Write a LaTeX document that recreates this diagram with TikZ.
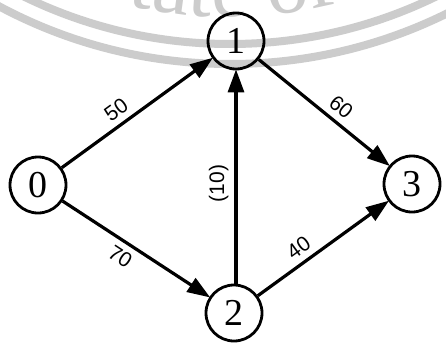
\documentclass[tikz,border=0pt]{standalone}
\usepackage{fontspec}
\setmainfont{Liberation Serif}
\newfontfamily\lblfont{Liberation Sans}
\usetikzlibrary{arrows.meta,decorations.text}
\definecolor{wmgray}{RGB}{204,204,204}
\begin{document}
\begin{tikzpicture}[x=1pt,y=-1pt,
  vert/.style={circle,draw,line width=2.8pt,minimum size=56pt,inner sep=0pt,font=\fontsize{38}{38}\selectfont},
  edge/.style={line width=3.2pt,-{Triangle[length=23pt,width=16pt]},shorten >=-1pt},
  wlbl/.style={font=\lblfont\fontsize{21}{21}\selectfont,sloped,inner sep=6pt}]
\useasboundingbox (0,0) rectangle (446,345);
\fill[white] (0,0) rectangle (446,345);
\begin{scope}
\clip (0,0) rectangle (446,345);
\coordinate (wc) at (230pt,426pt);
\draw[wmgray,line width=8pt] (wc) circle (470pt);
\draw[wmgray,line width=8pt] (wc) circle (490pt);
\path[decorate,decoration={text along path,text align=center,
  text={|\fontsize{84}{84}\selectfont\color{wmgray}|tate of Te}}]
  (wc) ++(255:443pt) arc[start angle=255,end angle=300,radius=443pt];
\end{scope}
\node[vert] (n0) at (38,185) {0};
\node[vert] (n1) at (236,41) {1};
\node[vert] (n2) at (234,313) {2};
\node[vert] (n3) at (412,184) {3};
\draw[edge] (n0) -- node[wlbl,above,pos=0.42] {50} (n1);
\draw[edge] (n0) -- node[wlbl,below,pos=0.45] {70} (n2);
\draw[edge] (n1) -- node[wlbl,above,pos=0.56] {60} (n3);
\draw[edge] (n2) -- node[wlbl,above,pos=0.38] {40} (n3);
\draw[edge] (n2.north -| n1.south) -- node[wlbl,above,pos=0.47] {(10)} (n1.south);
\end{tikzpicture}
\end{document}
